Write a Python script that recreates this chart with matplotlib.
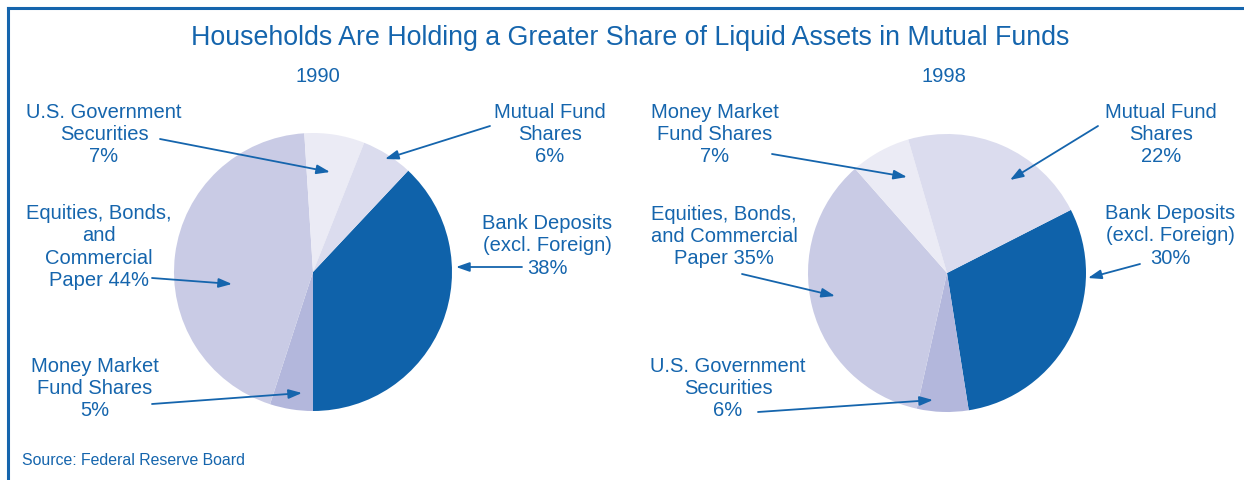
import matplotlib.pyplot as plt
from matplotlib.lines import Line2D

plt.rcParams['font.family'] = ['Liberation Sans', 'DejaVu Sans']

# data
labels_1990 = ['Bank Deposits', 'Money Market Fund Shares', 'Equities, Bonds, and Commercial Paper',
               'U.S. Government Securities', 'Mutual Fund Shares']
values_1990 = [38, 5, 44, 7, 6]
labels_1998 = ['Bank Deposits', 'U.S. Government Securities', 'Equities, Bonds, and Commercial Paper',
               'Money Market Fund Shares', 'Mutual Fund Shares']
values_1998 = [30, 6, 35, 7, 22]

blue = '#1565ad'
cols = {'Bank Deposits': '#0f62aa',
        'Money Market Fund Shares': '#ebebf5',
        'U.S. Government Securities': '#ebebf5',
        'Equities, Bonds, and Commercial Paper': '#c9cbe5',
        'Mutual Fund Shares': '#dbdcee'}
# small slice at bottom is darker
cols_1990 = [cols[l] for l in labels_1990]
cols_1990[1] = '#b3b7dc'
cols_1998 = [cols[l] for l in labels_1998]
cols_1998[1] = '#b3b7dc'

W, H = 1244, 481
fig = plt.figure(figsize=(W / 100, H / 100), dpi=100)
ax = fig.add_axes([0, 0, 1, 1])

def Y(y):
    return H - y

ax.pie(values_1990, colors=cols_1990, startangle=46.8, counterclock=False,
       center=(313, Y(273)), radius=139, frame=True)
ax.pie(values_1998, colors=cols_1998, startangle=27, counterclock=False,
       center=(947, Y(274)), radius=139, frame=True)
ax.set_xlim(0, W)
ax.set_ylim(0, H)
ax.axis('off')

# frame lines
fig.add_artist(Line2D([8 / W, 1], [1 - 9 / H, 1 - 9 / H], color=blue, lw=2.2, transform=fig.transFigure))
fig.add_artist(Line2D([8 / W, 8 / W], [0, 1 - 9 / H], color=blue, lw=2.2, transform=fig.transFigure))

ax.text(630, Y(38), 'Households Are Holding a Greater Share of Liquid Assets in Mutual Funds',
        ha='center', va='center', fontsize=19.3, color=blue)
ax.text(318, Y(76), '1990', ha='center', va='center', fontsize=14.5, color=blue)
ax.text(944, Y(76), '1998', ha='center', va='center', fontsize=14.5, color=blue)

notes = [
    ('U.S. Government\nSecurities\n7%', 104, 134, (160, 140), (330, 173)),
    ('Mutual Fund\nShares\n6%', 550, 134, (490, 127), (385, 160)),
    ('Equities, Bonds,\nand\nCommercial\nPaper 44%', 99, 247, (152, 279), (232, 285)),
    ('Bank Deposits\n(excl. Foreign)\n38%', 547, 246, (522, 268), (456, 268)),
    ('Money Market\nFund Shares\n5%', 95, 389, (152, 405), (302, 394)),
    ('Money Market\nFund Shares\n7%', 715, 134, (772, 155), (907, 178)),
    ('Mutual Fund\nShares\n22%', 1161, 134, (1098, 127), (1010, 181)),
    ('Equities, Bonds,\nand Commercial\nPaper 35%', 724, 237, (742, 275), (835, 297)),
    ('Bank Deposits\n(excl. Foreign)\n30%', 1170, 236, (1140, 265), (1088, 279)),
    ('U.S. Government\nSecurities\n6%', 728, 389, (758, 413), (933, 401)),
]
for txt, x, y, p0, p1 in notes:
    ax.text(x, Y(y), txt, ha='center', va='center', fontsize=14.5, color=blue, linespacing=1.2)
    ax.annotate('', xy=(p1[0], Y(p1[1])), xytext=(p0[0], Y(p0[1])),
                arrowprops=dict(arrowstyle='-|>,head_length=0.8,head_width=0.28', color=blue, lw=1.3,
                                shrinkA=0, shrinkB=0))

ax.text(22, Y(461), 'Source: Federal Reserve Board', ha='left', va='center', fontsize=11.4, color=blue)

fig.savefig('out.png', dpi=100)
